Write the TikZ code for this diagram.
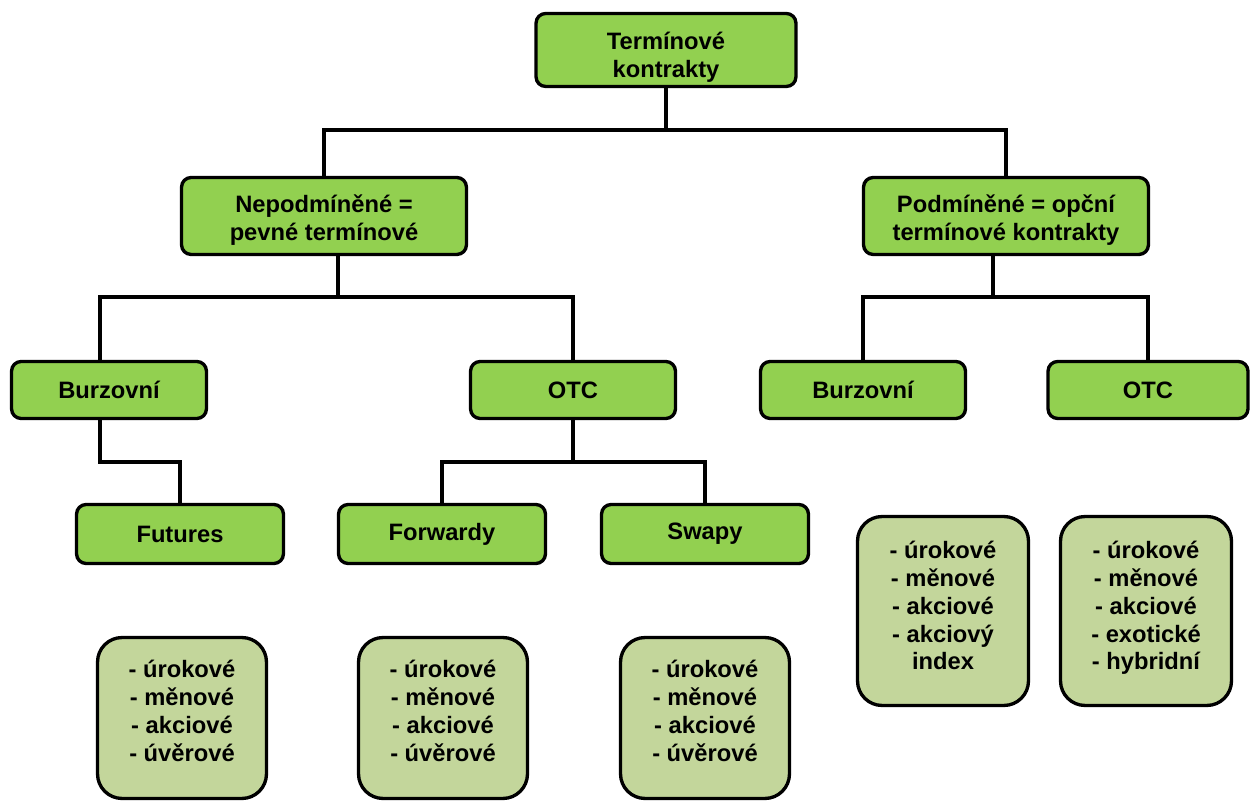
\documentclass[tikz,border=0pt]{standalone}
\usepackage{fontspec}
\setmainfont{Liberation Sans}
\usepackage{tikz}
\usetikzlibrary{calc}
\usetikzlibrary{positioning}

\definecolor{zelena}{HTML}{92D050}
\definecolor{olivova}{HTML}{C3D69B}
\newcommand{\horni}[1]{\rule{0pt}{#1}}

\begin{document}
\begin{tikzpicture}[
  x=0.02cm, y=-0.02cm,
  box/.style={rounded corners=5.5pt, draw=black, line width=1.9pt, fill=zelena,
              align=center, inner sep=2pt,
              font=\bfseries\fontsize{13.5}{15.9}\selectfont},
  boxlist/.style={box, rounded corners=14pt, fill=olivova},
  conn/.style={line width=1.9pt, draw=black},
]
\useasboundingbox (0,0) rectangle (1251,803);

%% ── Úroveň 0 : kořen ────────────────────────────────────────────────────
\node[box, minimum width=5.2cm, minimum height=1.46cm] (root) at (666,50)
  {\horni{18.5pt}Termínové\\kontrakty};

%% ── Úroveň 1 ────────────────────────────────────────────────────────────
\node[box, minimum width=5.7cm, minimum height=1.54cm] (nep) at (324,216)
  {\horni{15pt}Nepodmíněné =\\pevné termínové};
\node[box, minimum width=5.7cm, minimum height=1.54cm] (pod) at (1006,216)
  {\horni{15pt}Podmíněné = opční\\termínové kontrakty};

%% ── Úroveň 2 ────────────────────────────────────────────────────────────
\node[box, minimum width=3.9cm, minimum height=1.14cm] (burzA) at (109,390) {Burzovní};
\node[box, minimum width=4.1cm, minimum height=1.14cm] (otcA) at (573,390) {OTC};
\node[box, minimum width=4.1cm, minimum height=1.14cm] (burzB) at (863,390) {Burzovní};
\node[box, minimum width=4.0cm, minimum height=1.14cm] (otcB) at (1148,390) {OTC};

%% ── Úroveň 3 ────────────────────────────────────────────────────────────
\node[box, minimum width=4.14cm, minimum height=1.18cm] (fut) at (180,534) {Futures};
\node[box, minimum width=4.14cm, minimum height=1.18cm] (fwd) at (442,534) {Forwardy};
\node[box, minimum width=4.14cm, minimum height=1.18cm] (swp) at (705,534) {Swapy};

%% ── Podkladová aktiva ───────────────────────────────────────────────────
\node[boxlist, text depth=8.6pt, minimum width=3.38cm, minimum height=3.22cm] (listFut) at (182,718)
  {- úrokové\\- měnové\\- akciové\\- úvěrové};
\node[boxlist, text depth=8.6pt, minimum width=3.38cm, minimum height=3.22cm] (listFwd) at (443,718)
  {- úrokové\\- měnové\\- akciové\\- úvěrové};
\node[boxlist, text depth=8.6pt, minimum width=3.38cm, minimum height=3.22cm] (listSwp) at (705,718)
  {- úrokové\\- měnové\\- akciové\\- úvěrové};
\node[boxlist, text depth=6.4pt, minimum width=3.42cm, minimum height=3.78cm] (listBurzB) at (943,611)
  {- úrokové\\- měnové\\- akciové\\- akciový\\index};
\node[boxlist, text depth=6.4pt, minimum width=3.42cm, minimum height=3.78cm] (listOtcB) at (1146,611)
  {- úrokové\\- měnové\\- akciové\\- exotické\\- hybridní};

%% ── Sběrnice ────────────────────────────────────────────────────────────
\coordinate (bus0) at (0,130);
\coordinate (bus1) at (0,297);
\coordinate (bus2) at (0,462);
\coordinate (nepdrop) at ([xshift=0.28cm]nep.south);
\coordinate (poddrop) at ([xshift=-0.26cm]pod.south);
\coordinate (burzAtop) at ([xshift=-0.18cm]burzA.north);
\coordinate (burzAbot) at ([xshift=-0.18cm]burzA.south);

%% ── Spojnice ────────────────────────────────────────────────────────────
\draw[conn] (root.south) -- (root.south |- bus0);
\draw[conn] (nep.north) |- (bus0 -| pod.north) -- (pod.north);

\draw[conn] (nepdrop) -- (nepdrop |- bus1);
\draw[conn] (burzAtop) |- (bus1 -| otcA.north) -- (otcA.north);

\draw[conn] (poddrop) -- (poddrop |- bus1);
\draw[conn] (burzB.north) |- (bus1 -| otcB.north) -- (otcB.north);

\draw[conn] (burzAbot) |- (bus2 -| fut.north) -- (fut.north);

\draw[conn] (otcA.south) -- (otcA.south |- bus2);
\draw[conn] (fwd.north) |- (bus2 -| swp.north) -- (swp.north);

\end{tikzpicture}
\end{document}
